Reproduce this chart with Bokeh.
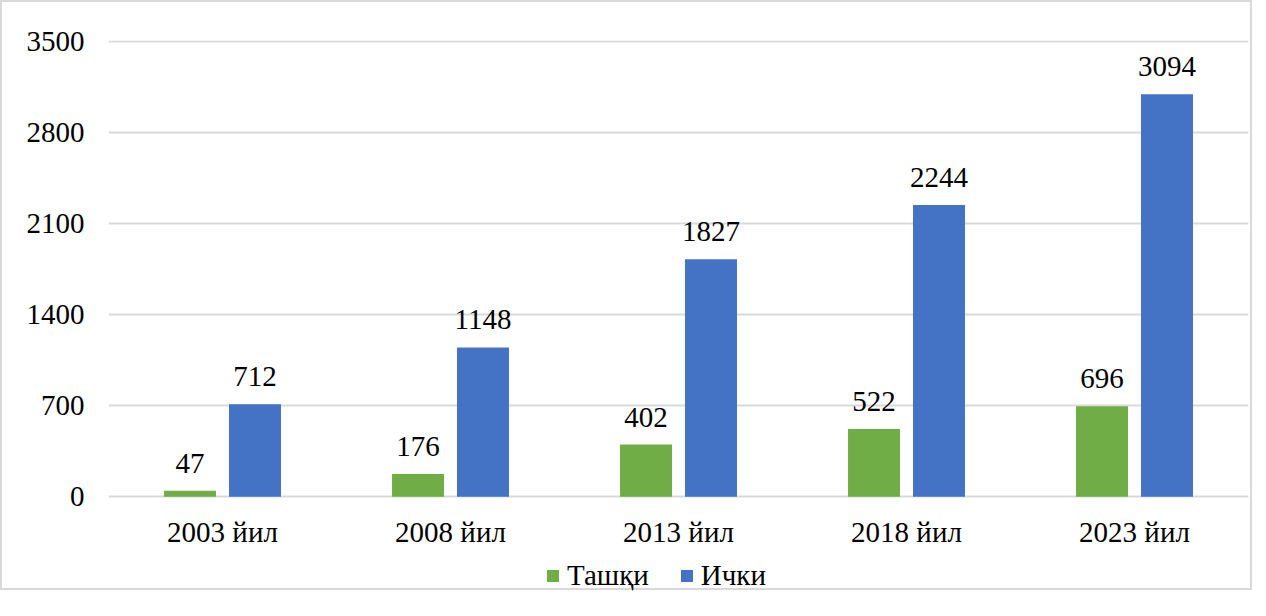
from bokeh.plotting import figure
from bokeh.models import ColumnDataSource, Legend, LegendItem, FixedTicker, Range1d, FactorRange
from bokeh.transform import dodge
from bokeh.core.properties import value
from bokeh.embed import file_html
from bokeh.resources import INLINE

years = ["2003 йил", "2008 йил", "2013 йил", "2018 йил", "2023 йил"]
tashqi = [47, 176, 402, 522, 696]
ichki = [712, 1148, 1827, 2244, 3094]
series_names = ["Ташқи", "Ички"]
y_ticks = [0, 700, 1400, 2100, 2800, 3500]

GREEN = "#70AD47"
BLUE = "#4472C4"
FONT = "Liberation Serif"
FS = "29px"

src = ColumnDataSource(dict(
    year=years, tashqi=tashqi, ichki=ichki, zero=[0] * len(years),
    tl=[str(v) for v in tashqi], il=[str(v) for v in ichki],
))

p = figure(x_range=FactorRange(*years), y_range=Range1d(-735.6, 3507.7),
           width=1252, height=590, output_backend="svg", toolbar_location=None,
           x_axis_location=None,
           min_border_left=106, min_border_right=6, min_border_top=38, min_border_bottom=0)
p.styles = {"border": "2px solid #d9d9d9"}
p.outline_line_color = None

r1 = p.vbar(x=dodge("year", -0.1425, range=p.x_range), top="tashqi", width=0.228,
            source=src, fill_color=GREEN, line_color=None)
r2 = p.vbar(x=dodge("year", 0.1425, range=p.x_range), top="ichki", width=0.228,
            source=src, fill_color=BLUE, line_color=None)

p.text(x=dodge("year", -0.1425, range=p.x_range), y="tashqi", text="tl", source=src,
       text_align="center", text_baseline="bottom", y_offset=-18,
       text_font=value(FONT), text_font_size=FS, text_color="#000000")
p.text(x=dodge("year", 0.1425, range=p.x_range), y="ichki", text="il", source=src,
       text_align="center", text_baseline="bottom", y_offset=-18,
       text_font=value(FONT), text_font_size=FS, text_color="#000000")

# category labels under the baseline
p.text(x="year", y="zero", text="year", source=src,
       text_align="center", text_baseline="middle", y_offset=35,
       text_font=value(FONT), text_font_size=FS, text_color="#000000")

p.yaxis.ticker = FixedTicker(ticks=y_ticks)
p.yaxis.axis_line_color = None
p.yaxis.major_tick_line_color = None
p.yaxis.minor_tick_line_color = None
p.yaxis.major_label_standoff = 18
p.yaxis.major_label_text_font = FONT
p.yaxis.major_label_text_font_size = FS
p.yaxis.major_label_text_color = "#000000"

p.xgrid.grid_line_color = None
p.ygrid.ticker = FixedTicker(ticks=y_ticks)
p.ygrid.grid_line_color = "#d9d9d9"
p.ygrid.grid_line_width = 2

legend = Legend(items=[LegendItem(label=series_names[0], renderers=[r1]),
                       LegendItem(label=series_names[1], renderers=[r2])],
                orientation="horizontal", location=(437, 0),
                label_text_font=FONT, label_text_font_size=FS, label_text_color="#000000",
                glyph_width=15, glyph_height=15, spacing=30, label_standoff=7,
                border_line_color=None, background_fill_alpha=0, padding=0, margin=0)
p.add_layout(legend, "center")

open("out.html", "w").write(file_html(p, INLINE))
